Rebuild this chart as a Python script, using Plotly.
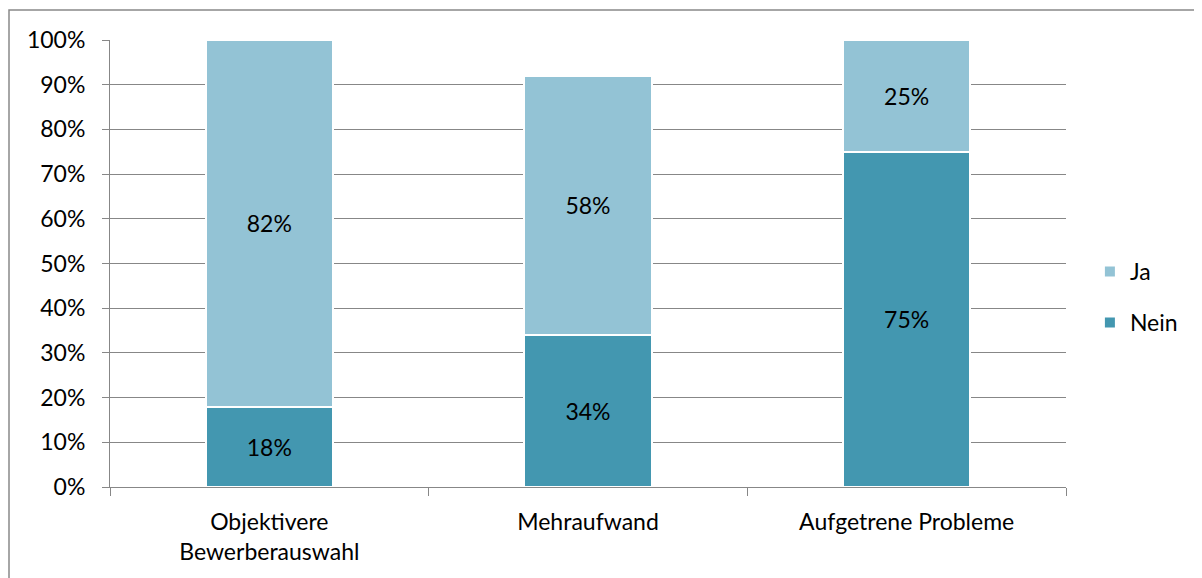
import plotly.graph_objects as go

categories = ["Objektivere<br>Bewerberauswahl", "Mehraufwand", "Aufgetrene Probleme"]
nein = [18, 34, 75]
ja = [82, 58, 25]
y_ticks = list(range(0, 101, 10))
y_tick_labels = [f"{v}%" for v in y_ticks]

FONT = "Lato, 'Open Sans', sans-serif"
GRID = "#878787"
FS = 23

fig = go.Figure()
fig.add_trace(go.Bar(
    x=categories, y=nein, name="Nein", legendgroup="nein", legendrank=2,
    marker=dict(color="#4397B0", line=dict(color="white", width=2)),
    text=[f"{v}%" for v in nein], textposition="inside", insidetextanchor="middle",
    textfont=dict(color="black", size=FS, family=FONT), width=0.4,
))
fig.add_trace(go.Bar(
    x=categories, y=ja, name="Ja", legendgroup="ja", legendrank=1,
    marker=dict(color="#93C3D5", line=dict(color="white", width=2)),
    text=[f"{v}%" for v in ja], textposition="inside", insidetextanchor="middle",
    textfont=dict(color="black", size=FS, family=FONT), width=0.4,
))

# page body has an 8px margin; offsets compensate so the plot area sits at 110..1066 x 40..487
fig.update_layout(
    barmode="stack",
    width=1202, height=578,
    margin=dict(l=102, r=144, t=32, b=99),
    paper_bgcolor="white", plot_bgcolor="white",
    font=dict(family=FONT, size=FS, color="black"),
    showlegend=True,
    legend=dict(x=1.025, y=0.425, xanchor="left", yanchor="middle",
                traceorder="grouped", tracegroupgap=18,
                font=dict(size=FS), itemwidth=30),
)
fig.update_yaxes(
    range=[0, 100], tickvals=y_ticks, ticktext=y_tick_labels,
    showgrid=True, gridcolor=GRID, gridwidth=1,
    showline=True, linecolor=GRID, linewidth=1,
    ticks="outside", ticklen=7, tickcolor=GRID, zeroline=False,
    ticklabelstandoff=12,
)
fig.update_xaxes(
    showline=True, linecolor=GRID, linewidth=1,
    ticks="outside", tickson="boundaries", ticklen=8, tickcolor=GRID,
    showgrid=False, ticklabelstandoff=14,
)
fig.add_shape(type="rect", xref="paper", yref="paper",
              x0=(9 - 110) / 956, x1=1.3, y0=-0.5, y1=(487 - 10) / 447,
              line=dict(color="#898989", width=1.5), fillcolor="rgba(0,0,0,0)",
              layer="below")

fig.write_html("out.html")
